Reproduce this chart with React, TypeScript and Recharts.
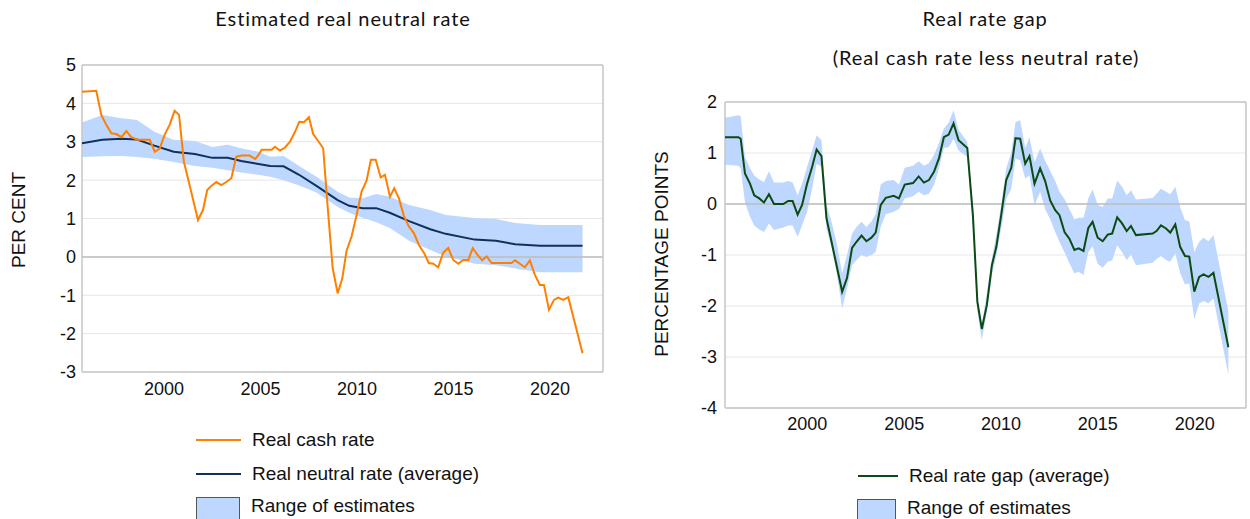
import React from "react";
import { ComposedChart, Line, Area, XAxis, YAxis, CartesianGrid, ReferenceLine } from "recharts";

const AXIS_FONT = "'Liberation Sans', Arial, sans-serif";
const TITLE_FONT = "Lato, 'Open Sans', sans-serif";

const ORANGE = "#ff8000";
const NAVY = "#10305c";
const GREEN = "#0b4a12";
const BAND = "#bdd7ff";

const yearTicks = [2000, 2005, 2010, 2015, 2020];
const neutralTicks = [-3, -2, -1, 0, 1, 2, 3, 4, 5];
const gapTicks = [-4, -3, -2, -1, 0, 1, 2];

// left panel: real cash rate, [year, per cent]
const realCashRate: [number, number][] = [
  [1995.75, 4.3], [1996.49, 4.33], [1996.75, 3.7], [1997.01, 3.44], [1997.27, 3.22], [1997.53, 3.2],
  [1997.79, 3.12], [1998.05, 3.28], [1998.3, 3.12], [1998.65, 3.05], [1999.26, 3.05], [1999.52, 2.74],
  [1999.78, 2.82], [2000.03, 3.18], [2000.29, 3.44], [2000.55, 3.81], [2000.78, 3.7], [2001.03, 2.48],
  [2001.41, 1.7], [2001.76, 0.96], [2002.02, 1.22], [2002.24, 1.74], [2002.45, 1.85], [2002.71, 1.95],
  [2002.97, 1.87], [2003.23, 1.95], [2003.49, 2.05], [2003.74, 2.61], [2004.0, 2.64], [2004.44, 2.64],
  [2004.72, 2.55], [2004.9, 2.66], [2005.06, 2.79], [2005.58, 2.79], [2005.75, 2.87], [2006.01, 2.77],
  [2006.27, 2.85], [2006.53, 3.0], [2006.79, 3.26], [2007.01, 3.52], [2007.25, 3.51], [2007.51, 3.64],
  [2007.73, 3.2], [2007.99, 3.02], [2008.25, 2.83], [2008.48, 1.31], [2008.74, -0.29], [2009.0, -0.95],
  [2009.24, -0.56], [2009.46, 0.16], [2009.72, 0.53], [2009.98, 1.09], [2010.24, 1.7], [2010.5, 1.99],
  [2010.72, 2.53], [2010.97, 2.53], [2011.23, 2.07], [2011.45, 2.14], [2011.71, 1.57], [2011.93, 1.79],
  [2012.17, 1.53], [2012.43, 1.07], [2012.69, 0.79], [2012.95, 0.62], [2013.21, 0.31], [2013.5, 0.08],
  [2013.72, -0.16], [2013.95, -0.18], [2014.21, -0.27], [2014.47, 0.11], [2014.73, 0.23], [2014.99, -0.08],
  [2015.25, -0.18], [2015.51, -0.08], [2015.77, -0.08], [2016.0, 0.23], [2016.25, 0.05], [2016.49, -0.09],
  [2016.72, 0.01], [2016.98, -0.16], [2018.01, -0.16], [2018.19, -0.09], [2018.44, -0.18], [2018.7, -0.27],
  [2018.96, -0.09], [2019.22, -0.47], [2019.48, -0.73], [2019.69, -0.73], [2019.95, -1.38], [2020.21, -1.12],
  [2020.43, -1.06], [2020.69, -1.12], [2020.95, -1.05], [2021.69, -2.51],
];

// left panel: neutral rate average and range of estimates
const neutralYears = [
  1995.75, 1996.8, 1997.8, 1998.6, 1999.5, 2000.5, 2001.6, 2002.5, 2003.3, 2004.0, 2004.9, 2005.5, 2006.2, 2007.0,
  2007.9, 2009.0, 2009.6, 2010.3, 2011.0, 2011.7, 2012.7, 2013.8, 2014.6, 2016.1, 2017.2, 2018.2, 2019.5, 2021.69,
];
const neutralAverage = [
  2.96, 3.05, 3.08, 3.06, 2.9, 2.74, 2.68, 2.58, 2.58, 2.5, 2.42, 2.37, 2.36, 2.14,
  1.85, 1.48, 1.33, 1.27, 1.27, 1.15, 0.93, 0.72, 0.6, 0.45, 0.42, 0.33, 0.29, 0.29,
];
const neutralLow = [
  2.6, 2.62, 2.63, 2.6, 2.56, 2.47, 2.37, 2.32, 2.26, 2.2, 2.14, 2.09, 2.0, 1.86,
  1.68, 1.3, 1.15, 1.02, 0.9, 0.75, 0.42, 0.18, 0.01, -0.18, -0.22, -0.3, -0.4, -0.4,
];
const neutralHigh = [
  3.5, 3.7, 3.61, 3.57, 3.26, 3.05, 3.02, 2.86, 2.92, 2.83, 2.74, 2.61, 2.63, 2.37,
  2.09, 1.7, 1.55, 1.53, 1.64, 1.57, 1.35, 1.22, 1.09, 1.01, 0.99, 0.88, 0.83, 0.83,
];

// right panel: real rate gap
const gapYears = [
  1995.75, 1996.44, 1996.56, 1996.78, 1997.04, 1997.26, 1997.52, 1997.76, 1998.02, 1998.28, 1998.76, 1999.01,
  1999.24, 1999.5, 1999.73, 1999.99, 2000.25, 2000.48, 2000.73, 2000.99, 2001.25, 2001.51, 2001.8, 2002.05,
  2002.31, 2002.54, 2002.8, 2003.05, 2003.31, 2003.53, 2003.79, 2004.05, 2004.46, 2004.73, 2005.03, 2005.46,
  2005.75, 2006.02, 2006.28, 2006.54, 2006.8, 2007.05, 2007.3, 2007.55, 2007.81, 2008.26, 2008.55, 2008.78,
  2009.01, 2009.27, 2009.53, 2009.76, 2010.01, 2010.27, 2010.53, 2010.75, 2010.99, 2011.25, 2011.47, 2011.73,
  2012.02, 2012.28, 2012.54, 2012.8, 2013.02, 2013.28, 2013.53, 2013.79, 2014.01, 2014.26, 2014.51, 2014.73,
  2014.99, 2015.25, 2015.51, 2015.74, 2016.0, 2016.25, 2016.49, 2016.71, 2016.97, 2017.83, 2018.03, 2018.26,
  2018.52, 2018.74, 2019.0, 2019.25, 2019.5, 2019.72, 2019.98, 2020.23, 2020.46, 2020.71, 2020.97, 2021.74,
];
const gapAverage = [
  1.31, 1.31, 1.28, 0.6, 0.4, 0.17, 0.11, 0.03, 0.19, 0.0, 0.0, 0.06,
  0.06, -0.21, -0.02, 0.4, 0.73, 1.07, 0.94, -0.28, -0.74, -1.2, -1.72, -1.45,
  -0.86, -0.74, -0.62, -0.73, -0.66, -0.56, -0.02, 0.12, 0.16, 0.11, 0.38, 0.41,
  0.54, 0.42, 0.47, 0.63, 0.9, 1.31, 1.36, 1.58, 1.25, 1.1, -0.22, -1.92,
  -2.45, -1.98, -1.2, -0.84, -0.22, 0.47, 0.71, 1.29, 1.28, 0.79, 0.94, 0.4,
  0.7, 0.45, 0.07, -0.12, -0.22, -0.55, -0.68, -0.9, -0.87, -0.92, -0.47, -0.35,
  -0.66, -0.73, -0.6, -0.58, -0.26, -0.38, -0.53, -0.43, -0.61, -0.58, -0.53, -0.42,
  -0.48, -0.56, -0.4, -0.84, -1.02, -1.03, -1.72, -1.43, -1.38, -1.43, -1.35, -2.81,
];
const gapLow = [
  0.77, 0.75, 0.7, 0.04, -0.25, -0.42, -0.5, -0.55, -0.38, -0.51, -0.46, -0.42,
  -0.42, -0.64, -0.42, -0.15, 0.3, 0.79, 0.73, -0.48, -0.85, -1.35, -2.05, -1.66,
  -1.2, -1.1, -1.0, -1.04, -1.0, -0.94, -0.45, -0.2, -0.15, -0.1, 0.11, 0.15,
  0.24, 0.17, 0.2, 0.37, 0.7, 1.1, 1.12, 1.28, 1.05, 0.92, -0.48, -2.11,
  -2.67, -2.1, -1.39, -1.0, -0.48, 0.1, 0.3, 0.89, 0.86, 0.5, 0.56, -0.02,
  0.24, -0.1, -0.3, -0.55, -0.74, -0.95, -1.16, -1.36, -1.33, -1.39, -0.94, -0.83,
  -1.17, -1.25, -1.13, -1.11, -0.81, -0.94, -1.1, -0.99, -1.2, -1.15, -1.08, -1.02,
  -1.1, -1.13, -0.97, -1.36, -1.58, -1.56, -2.26, -1.95, -1.9, -1.95, -1.85, -3.35,
];
const gapHigh = [
  1.69, 1.74, 1.72, 0.92, 0.7, 0.56, 0.48, 0.43, 0.64, 0.42, 0.42, 0.45,
  0.42, 0.17, 0.4, 0.73, 1.05, 1.35, 1.25, -0.02, -0.35, -0.75, -1.36, -1.0,
  -0.58, -0.45, -0.35, -0.45, -0.35, -0.19, 0.38, 0.45, 0.47, 0.38, 0.71, 0.75,
  0.84, 0.75, 0.8, 0.96, 1.2, 1.48, 1.6, 1.84, 1.45, 1.22, -0.02, -1.79,
  -2.37, -1.75, -1.07, -0.6, -0.02, 0.7, 1.0, 1.61, 1.64, 1.1, 1.31, 0.82,
  1.09, 0.85, 0.65, 0.45, 0.24, 0.1, -0.1, -0.3, -0.27, -0.27, 0.11, 0.29,
  -0.02, -0.06, 0.11, 0.11, 0.46, 0.34, 0.17, 0.27, 0.09, 0.12, 0.2, 0.3,
  0.24, 0.19, 0.34, -0.06, -0.32, -0.34, -0.94, -0.74, -0.66, -0.73, -0.61, -2.11,
];

const cashRows = realCashRate.map(([t, v]) => ({ t, v }));
const neutralRows = neutralYears.map((t, i) => ({
  t,
  avg: neutralAverage[i],
  range: [neutralLow[i], neutralHigh[i]],
}));
const gapRows = gapYears.map((t, i) => ({
  t,
  avg: gapAverage[i],
  range: [gapLow[i], gapHigh[i]],
}));

const tickStyle = { fill: "#111", fontSize: 18, fontFamily: AXIS_FONT };
const BORDER = "#c6c6c6";

function Title({ x, y, text }: { x: number; y: number; text: string }) {
  return (
    <div
      style={{
        position: "absolute",
        left: x - 250,
        top: y - 13,
        width: 500,
        textAlign: "center",
        fontFamily: TITLE_FONT,
        fontSize: 20,
        letterSpacing: "0.9px",
        lineHeight: "26px",
        color: "#111",
      }}
    >
      {text}
    </div>
  );
}

function AxisTitle({ x, y, text }: { x: number; y: number; text: string }) {
  return (
    <div
      style={{
        position: "absolute",
        left: x,
        top: y,
        transform: "translate(-50%, -50%) rotate(-90deg)",
        whiteSpace: "nowrap",
        fontFamily: AXIS_FONT,
        fontSize: 19,
        color: "#111",
      }}
    >
      {text}
    </div>
  );
}

function LegendRow({
  x,
  y,
  width,
  label,
  color,
  box,
}: {
  x: number;
  y: number;
  width: number;
  label: string;
  color?: string;
  box?: boolean;
}) {
  return (
    <div style={{ position: "absolute", left: x, top: y, height: 0 }}>
      {box ? (
        <div
          style={{
            position: "absolute",
            left: 0,
            top: -9,
            width: width - 2,
            height: 30,
            background: BAND,
            border: "1px solid #555",
          }}
        />
      ) : (
        <div
          style={{ position: "absolute", left: 0, top: -1, width, height: 2, background: color }}
        />
      )}
      <div
        style={{
          position: "absolute",
          left: width + 11,
          top: -11,
          whiteSpace: "nowrap",
          fontFamily: AXIS_FONT,
          fontSize: 19,
          lineHeight: "22px",
          color: "#111",
        }}
      >
        {label}
      </div>
    </div>
  );
}

export default function App() {
  return (
    <div
      style={{
        position: "absolute",
        left: 0,
        top: 0,
        width: 1250,
        height: 519,
        overflow: "hidden",
        background: "#fff",
      }}
    >
      <Title x={343} y={18} text="Estimated real neutral rate" />
      <Title x={985} y={18} text="Real rate gap" />
      <Title x={986} y={57} text="(Real cash rate less neutral rate)" />
      <AxisTitle x={19} y={220} text="PER CENT" />
      <AxisTitle x={662} y={254} text="PERCENTAGE POINTS" />

      <div style={{ position: "absolute", left: 0, top: 0 }}>
        <ComposedChart width={620} height={410} margin={{ top: 65, right: 17, left: 0, bottom: 0 }}>
          <CartesianGrid vertical={false} stroke="#e6e6e6" />
          <XAxis
            dataKey="t"
            type="number"
            domain={[1995.75, 2022.75]}
            ticks={yearTicks}
            axisLine={false}
            tickLine={false}
            tickSize={0}
            tickMargin={10}
            height={38}
            tick={tickStyle}
            allowDataOverflow
          />
          <YAxis
            type="number"
            domain={[-3, 5]}
            ticks={neutralTicks}
            axisLine={false}
            tickLine={false}
            tickSize={0}
            tickMargin={6}
            width={82}
            tick={tickStyle}
            allowDataOverflow
          />
          <ReferenceLine y={0} stroke="#bdbdbd" strokeWidth={1.5} />
          <ReferenceLine y={5} stroke={BORDER} strokeWidth={1.5} />
          <ReferenceLine y={-3} stroke={BORDER} strokeWidth={1.5} />
          <ReferenceLine x={1995.75} stroke={BORDER} strokeWidth={1.5} />
          <ReferenceLine x={2022.75} stroke={BORDER} strokeWidth={1.5} />
          <Area
            data={neutralRows}
            dataKey="range"
            type="linear"
            stroke="none"
            fill={BAND}
            fillOpacity={1}
            isAnimationActive={false}
          />
          <Line
            data={neutralRows}
            dataKey="avg"
            type="linear"
            stroke={NAVY}
            strokeWidth={2}
            dot={false}
            isAnimationActive={false}
          />
          <Line
            data={cashRows}
            dataKey="v"
            type="linear"
            stroke={ORANGE}
            strokeWidth={2}
            dot={false}
            isAnimationActive={false}
          />
        </ComposedChart>
      </div>

      <div style={{ position: "absolute", left: 640, top: 0 }}>
        <ComposedChart
          width={610}
          height={440}
          data={gapRows}
          margin={{ top: 102, right: 4, left: 0, bottom: 0 }}
        >
          <CartesianGrid vertical={false} stroke="#e6e6e6" />
          <XAxis
            dataKey="t"
            type="number"
            domain={[1995.75, 2022.65]}
            ticks={yearTicks}
            axisLine={false}
            tickLine={false}
            tickSize={0}
            tickMargin={9}
            height={32}
            tick={tickStyle}
            allowDataOverflow
          />
          <YAxis
            type="number"
            domain={[-4, 2]}
            ticks={gapTicks}
            axisLine={false}
            tickLine={false}
            tickSize={0}
            tickMargin={8}
            width={85}
            tick={tickStyle}
            allowDataOverflow
          />
          <ReferenceLine y={0} stroke="#bdbdbd" strokeWidth={1.5} />
          <ReferenceLine y={2} stroke={BORDER} strokeWidth={1.5} />
          <ReferenceLine y={-4} stroke={BORDER} strokeWidth={1.5} />
          <ReferenceLine x={1995.75} stroke={BORDER} strokeWidth={1.5} />
          <ReferenceLine x={2022.65} stroke={BORDER} strokeWidth={1.5} />
          <Area
            dataKey="range"
            type="linear"
            stroke="none"
            fill={BAND}
            fillOpacity={1}
            isAnimationActive={false}
          />
          <Line
            dataKey="avg"
            type="linear"
            stroke={GREEN}
            strokeWidth={2}
            dot={false}
            isAnimationActive={false}
          />
        </ComposedChart>
      </div>

      <LegendRow x={196} y={440} width={45} label="Real cash rate" color={ORANGE} />
      <LegendRow x={196} y={474} width={45} label="Real neutral rate (average)" color={NAVY} />
      <LegendRow x={196} y={506} width={44} label="Range of estimates" box />
      <LegendRow x={858} y={476} width={40} label="Real rate gap (average)" color={GREEN} />
      <LegendRow x={857} y={508} width={39} label="Range of estimates" box />
    </div>
  );
}
